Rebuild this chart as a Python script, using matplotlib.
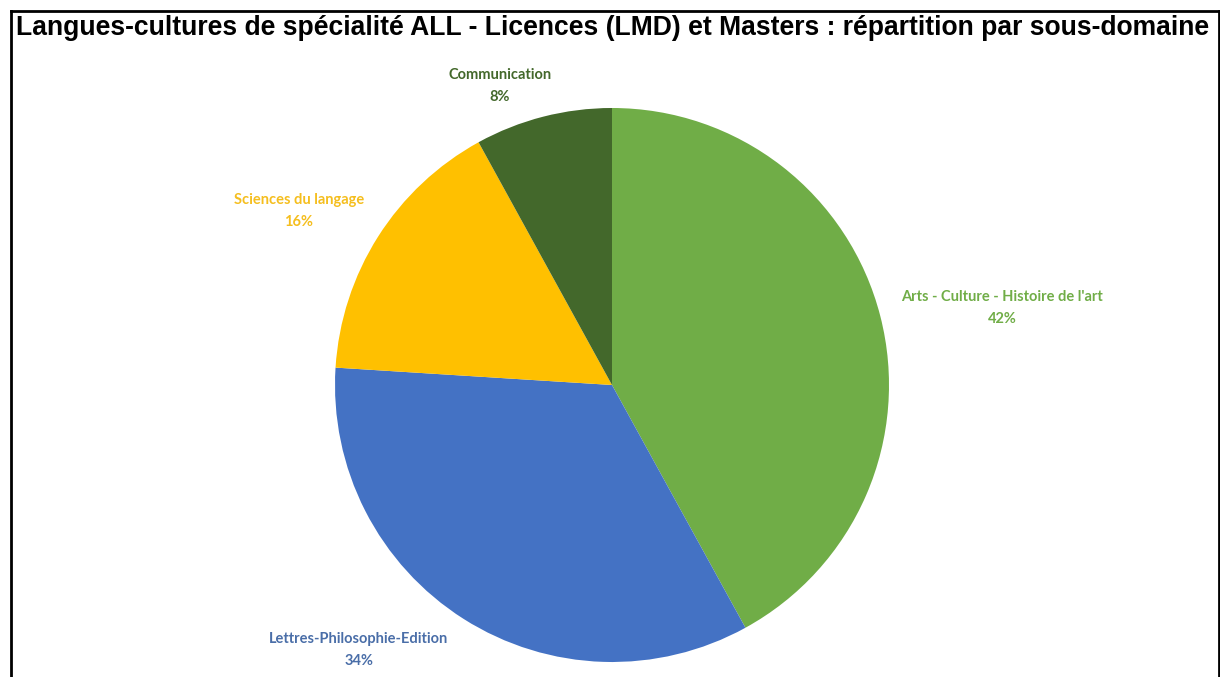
import matplotlib
matplotlib.use('Agg')
import matplotlib.pyplot as plt
from matplotlib.lines import Line2D

labels = ['Arts - Culture - Histoire de l\'art', 'Lettres-Philosophie-Edition',
          'Sciences du langage', 'Communication']
values = [42, 34, 16, 8]
colors = ['#70AD47', '#4472C4', '#FFC000', '#43682B']
text_colors = ['#70AD47', '#4A6EA8', '#F5BE1E', '#43682B']
title = 'Langues-cultures de spécialité ALL - Licences (LMD) et Masters : répartition par sous-domaine'

W, H = 1220, 677
fig = plt.figure(figsize=(W / 100, H / 100), dpi=100)
ax = fig.add_axes([0, 0, 1, 1])

cx, cy, r = 612, H - 385, 277
ax.pie(values, colors=colors, startangle=90, counterclock=False,
       center=(cx, cy), radius=r, frame=True,
       wedgeprops={'linewidth': 0})
ax.set_xlim(0, W)
ax.set_ylim(0, H)
ax.axis('off')

# label positions (pixels, from top)
label_pos = [(1002, 308), (359, 650), (299, 211), (500, 86)]
for lab, v, c, (x, y) in zip(labels, values, text_colors, label_pos):
    ax.text(x, H - y, lab + '\n' + str(v) + '%', color=c, ha='center', va='center',
            fontsize=10.5, fontweight='bold', family='Lato', linespacing=1.7)

# title and frame
fig.text(613 / W, 1 - 28 / H, title, ha='center', va='center',
         fontsize=19.1, fontweight='bold', family='Liberation Sans')
x0, x1 = 11 / W, 1218.5 / W
y0 = 1 - 11 / H
fig.add_artist(Line2D([x0, x1], [y0, y0], color='black', linewidth=2))
fig.add_artist(Line2D([x0, x0], [y0, 0], color='black', linewidth=2))
fig.add_artist(Line2D([x1, x1], [y0, 0], color='black', linewidth=2))

fig.savefig('out.png', dpi=100)
